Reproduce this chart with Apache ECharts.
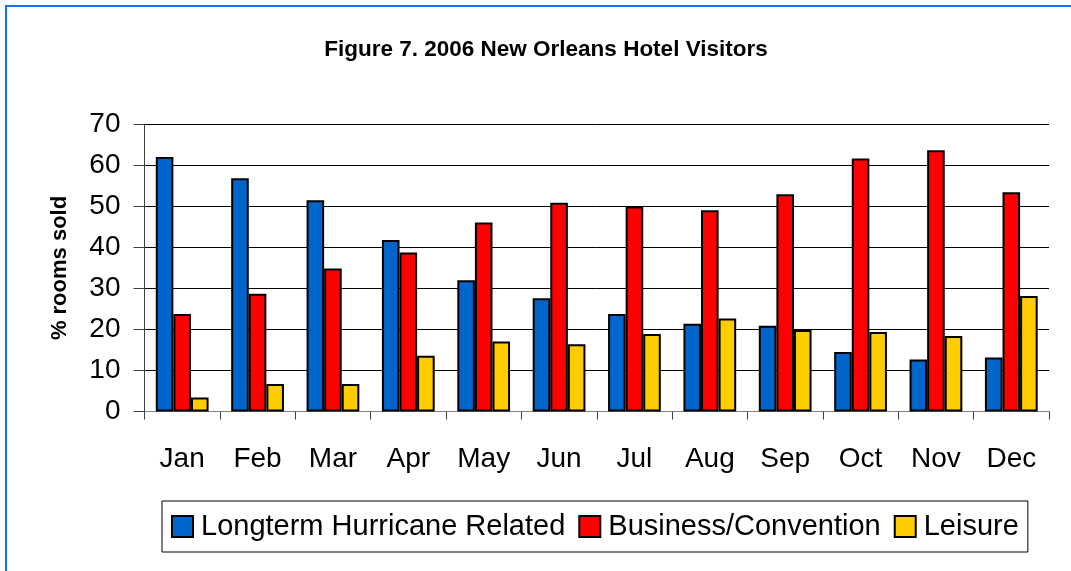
<!DOCTYPE html>
<html>
<head>
<meta charset="utf-8">
<script src="https://cdn.jsdelivr.net/npm/echarts@6/dist/echarts.min.js"></script>
<style>
html,body{margin:0;padding:0;background:#fff;}
#c{width:1071px;height:571px;}
</style>
</head>
<body>
<div id="c"></div>
<script>
var months = ['Jan','Feb','Mar','Apr','May','Jun','Jul','Aug','Sep','Oct','Nov','Dec'];
var hurricane = [62.1, 56.9, 51.5, 41.8, 32.0, 27.6, 23.8, 21.4, 20.9, 14.5, 12.7, 13.2];
var business = [23.8, 28.7, 34.9, 38.8, 46.1, 50.9, 50.0, 49.1, 53.0, 61.7, 63.7, 53.5];
var leisure = [3.4, 6.7, 6.7, 13.6, 17.1, 16.4, 18.9, 22.7, 19.9, 19.4, 18.4, 28.2];
var seriesNames = ['Longterm Hurricane Related', 'Business/Convention', 'Leisure'];
var colors = ['#0066CC', '#FF0000', '#FFCC00'];

var chart = echarts.init(document.getElementById('c'));
var font = 'Liberation Sans, Arial, sans-serif';
function bar(name, data, color) {
  return {
    name: name, type: 'bar', data: data,
    barGap: '0%', barCategoryGap: '30%',
    itemStyle: {color: color, borderColor: '#000', borderWidth: 2},
    emphasis: {disabled: true}
  };
}
chart.setOption({
  animation: false,
  graphic: [{
    type: 'rect', silent: true,
    shape: {x: 6, y: 6, width: 1200, height: 700},
    style: {fill: 'none', stroke: '#1A6EF5', lineWidth: 2}
  }],
  title: {
    text: 'Figure 7. 2006 New Orleans Hotel Visitors',
    left: 541, top: 33, textAlign: 'center',
    textStyle: {fontFamily: font, fontWeight: 'bold', fontSize: 22.5, color: '#000'}
  },
  legend: {
    data: seriesNames,
    left: 162, top: 501,
    padding: [11, 9, 11, 9],
    itemWidth: 21, itemHeight: 21, itemGap: 13,
    borderColor: '#000', borderWidth: 1,
    icon: 'rect',
    itemStyle: {borderColor: '#000', borderWidth: 2},
    textStyle: {fontFamily: font, fontSize: 29, color: '#000', padding: [0, 0, 0, 3]},
    selectedMode: false
  },
  grid: {left: 144.5, right: 22, top: 124.5, bottom: 159.5, containLabel: false},
  xAxis: {
    type: 'category', data: months,
    axisLine: {lineStyle: {color: '#808080', width: 1}},
    axisTick: {show: true, length: 8, lineStyle: {color: '#404040'}},
    axisLabel: {fontFamily: font, fontSize: 28, color: '#000', margin: 34}
  },
  yAxis: {
    type: 'value', min: 0, max: 70, interval: 10,
    name: '% rooms sold', nameLocation: 'middle', nameGap: 74, nameRotate: 90,
    nameTextStyle: {fontFamily: font, fontWeight: 'bold', fontSize: 22, color: '#000'},
    axisLine: {show: true, lineStyle: {color: '#404040', width: 1}},
    axisTick: {show: true, inside: false, length: 11, lineStyle: {color: '#404040'}},
    axisLabel: {fontFamily: font, fontSize: 28, color: '#000', margin: 24},
    splitLine: {show: true, lineStyle: {color: '#000', width: 1}}
  },
  series: [
    bar(seriesNames[0], hurricane, colors[0]),
    bar(seriesNames[1], business, colors[1]),
    bar(seriesNames[2], leisure, colors[2])
  ]
});
</script>
</body>
</html>
